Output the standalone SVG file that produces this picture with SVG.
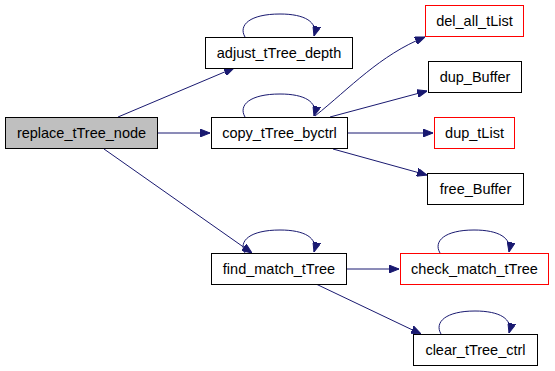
<svg xmlns="http://www.w3.org/2000/svg" width="555" height="371" viewBox="0 0 555 371">
<style>
.n rect{fill:#fff;stroke:#000;stroke-width:1}
.n.r rect{stroke:#ff0000}
.n.root rect{fill:#bfbfbf}
.n text{font-family:"Liberation Sans",Arial,sans-serif;font-size:14.5px;text-anchor:middle;fill:#000}
.e path{fill:none;stroke:#191970;stroke-width:1;marker-end:url(#ah)}
</style>
<defs>
<marker id="ah" viewBox="0 0 10 8" refX="10" refY="4" markerWidth="10" markerHeight="8" markerUnits="userSpaceOnUse" orient="auto">
<path d="M0,0 L10,4 L0,8 Z" fill="#191970" stroke="#191970"/>
</marker>
</defs>
<rect width="555" height="371" fill="#fff"/>
<g class="e">
<path d="M118,117 L234,68"/>
<path d="M157,133 L210,133"/>
<path d="M104,149 L252,253"/>
<path d="M245,37 C238,25 250,14 280,14 C305,14 318,22 314,36"/>
<path d="M245,117 C238,105 250,94 280,94 C305,94 318,102 314,116"/>
<path d="M245,253 C238,241 250,230 280,230 C305,230 318,238 314,252"/>
<path d="M440,253 C433,241 445,230 474,230 C499,230 512,238 509,252"/>
<path d="M441,334 C434,322 446,311 475,311 C500,311 513,319 509,333"/>
<path d="M315,116 C350,88 380,55 425,37"/>
<path d="M330,117 L427,91"/>
<path d="M347,133 L433,133"/>
<path d="M333,149 L427,175"/>
<path d="M346,269 L399,269"/>
<path d="M316,284 L421,334"/>
</g>
<g id="replace_tTree_node" class="n root"><rect x="5.5" y="117.5" width="152" height="31"/><text x="81.5" y="138">replace_tTree_node</text></g>
<g id="adjust_tTree_depth" class="n"><rect x="205.5" y="37.5" width="147" height="31"/><text x="279" y="58">adjust_tTree_depth</text></g>
<g id="copy_tTree_byctrl" class="n"><rect x="211.5" y="117.5" width="136" height="31"/><text x="279.5" y="138">copy_tTree_byctrl</text></g>
<g id="find_match_tTree" class="n"><rect x="211.5" y="253.5" width="135" height="31"/><text x="279" y="274">find_match_tTree</text></g>
<g id="del_all_tList" class="n r"><rect x="425.5" y="5.5" width="98" height="31"/><text x="474.5" y="26">del_all_tList</text></g>
<g id="dup_Buffer" class="n"><rect x="428.5" y="61.5" width="93" height="31"/><text x="475" y="82">dup_Buffer</text></g>
<g id="dup_tList" class="n r"><rect x="434.5" y="117.5" width="80" height="31"/><text x="474.5" y="138">dup_tList</text></g>
<g id="free_Buffer" class="n"><rect x="427.5" y="173.5" width="96" height="31"/><text x="475.5" y="194">free_Buffer</text></g>
<g id="check_match_tTree" class="n r"><rect x="400.5" y="253.5" width="148" height="31"/><text x="474.5" y="274">check_match_tTree</text></g>
<g id="clear_tTree_ctrl" class="n"><rect x="413.5" y="334.5" width="124" height="31"/><text x="475.5" y="355">clear_tTree_ctrl</text></g>
</svg>
